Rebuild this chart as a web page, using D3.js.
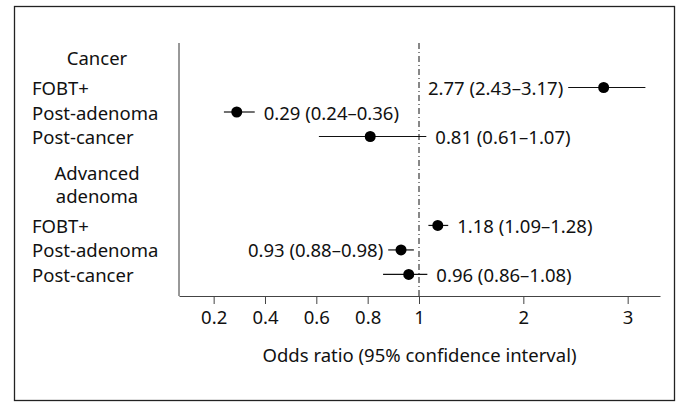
<!DOCTYPE html>
<html>
<head>
<meta charset="utf-8">
<script src="https://cdn.jsdelivr.net/npm/d3@7"></script>
<style>
  html, body { margin: 0; padding: 0; background: #fff; }
  svg { display: block; }
  text { font-family: "Noto Sans", "Open Sans", sans-serif; fill: #111; }
</style>
</head>
<body>
<svg id="chart" width="680" height="404"></svg>
<script>
// ---- data ----
const groups = ["Cancer", "Advanced adenoma"];
const groupLines = [["Cancer"], ["Advanced", "adenoma"]];
const rowLabels = ["FOBT+", "Post-adenoma", "Post-cancer"];
const oddsRatio = [2.77, 0.29, 0.81, 1.18, 0.93, 0.96];
const ciLow     = [2.43, 0.24, 0.61, 1.09, 0.88, 0.86];
const ciHigh    = [3.17, 0.36, 1.07, 1.28, 0.98, 1.08];
const labelSide = ["left", "right", "right", "right", "left", "right"];
const xTicks = [0.2, 0.4, 0.6, 0.8, 1, 2, 3];
const xTitle = "Odds ratio (95% confidence interval)";

const fmt = v => v.toFixed(2);
const rows = oddsRatio.map((v, i) => ({
  group: Math.floor(i / rowLabels.length),
  row: i % rowLabels.length,
  label: rowLabels[i % rowLabels.length],
  or: v, lo: ciLow[i], hi: ciHigh[i], side: labelSide[i],
  text: `${fmt(v)} (${fmt(ciLow[i])}\u2013${fmt(ciHigh[i])})`
}));

// ---- layout ----
const svg = d3.select("#chart");
const axisLeft = 179, axisRight = 660, axisY = 296, axisTop = 43;
const fontSize = 18.5;

const x = d3.scaleLinear()
  .domain([0.065, 1, 3.31])
  .range([axisLeft, 419, axisRight]);

// slot-based vertical scale: each group = rows, with a gap between groups
const step = 24.5, gapSlots = 2.63;
const groupStart = gi => gi * (rowLabels.length + gapSlots);
const slot = d => groupStart(d.group) + d.row;
const y = d3.scaleLinear().domain([0, 1]).range([87.5, 87.5 + step]);

// frame
svg.append("rect")
  .attr("x", 14.5).attr("y", 6.5).attr("width", 660).attr("height", 394)
  .attr("fill", "none").attr("stroke", "#222").attr("stroke-width", 1.3);

// axes
svg.append("line")
  .attr("x1", axisLeft).attr("x2", axisLeft)
  .attr("y1", axisTop).attr("y2", axisY)
  .attr("stroke", "#333").attr("stroke-width", 1);

const xAxis = svg.append("g")
  .attr("transform", `translate(0,${axisY})`)
  .call(d3.axisBottom(x).tickValues(xTicks).tickFormat(d3.format("~g"))
        .tickSizeOuter(0).tickSizeInner(8).tickPadding(7));
xAxis.select(".domain").attr("stroke", "#444");
xAxis.selectAll(".tick line").attr("stroke", "#444");
xAxis.selectAll("text")
  .style("font-family", '"Noto Sans", "Open Sans", sans-serif')
  .style("font-size", fontSize + "px").attr("fill", "#111");

svg.append("text")
  .attr("x", (axisLeft + axisRight) / 2).attr("y", 354)
  .attr("text-anchor", "middle").attr("dominant-baseline", "central")
  .style("font-size", fontSize + "px")
  .text(xTitle);

// reference line at OR = 1
svg.append("line")
  .attr("x1", x(1)).attr("x2", x(1))
  .attr("y1", axisTop).attr("y2", axisY)
  .attr("stroke", "#111").attr("stroke-width", 1)
  .attr("stroke-dasharray", "6,3,1,3");

// group headers
groups.forEach((g, gi) => {
  const firstY = y(groupStart(gi));
  const lines = groupLines[gi];
  lines.forEach((ln, li) => {
    svg.append("text")
      .attr("x", 97)
      .attr("y", firstY - 30 - (lines.length - 1 - li) * 23)
      .attr("text-anchor", "middle").attr("dominant-baseline", "central")
      .style("font-size", fontSize + "px")
      .text(ln);
  });
});

// row labels
svg.selectAll(".rowlab").data(rows).join("text")
  .attr("class", "rowlab")
  .attr("x", 32).attr("y", d => y(slot(d)))
  .attr("dominant-baseline", "central")
  .style("font-size", fontSize + "px")
  .text(d => d.label);

// CI lines
svg.selectAll(".ci").data(rows).join("line")
  .attr("class", "ci")
  .attr("x1", d => x(d.lo)).attr("x2", d => x(d.hi))
  .attr("y1", d => y(slot(d))).attr("y2", d => y(slot(d)))
  .attr("stroke", "#111").attr("stroke-width", 1.2);

// points
svg.selectAll(".pt").data(rows).join("circle")
  .attr("class", "pt")
  .attr("cx", d => x(d.or)).attr("cy", d => y(slot(d)))
  .attr("r", 5.5).attr("fill", "#000");

// value labels
svg.selectAll(".val").data(rows).join("text")
  .attr("class", "val")
  .attr("x", d => d.side === "right" ? x(d.hi) + 9 : x(d.lo) - 5)
  .attr("y", d => y(slot(d)))
  .attr("text-anchor", d => d.side === "right" ? "start" : "end")
  .attr("dominant-baseline", "central")
  .style("font-size", fontSize + "px")
  .text(d => d.text);
</script>
</body>
</html>
